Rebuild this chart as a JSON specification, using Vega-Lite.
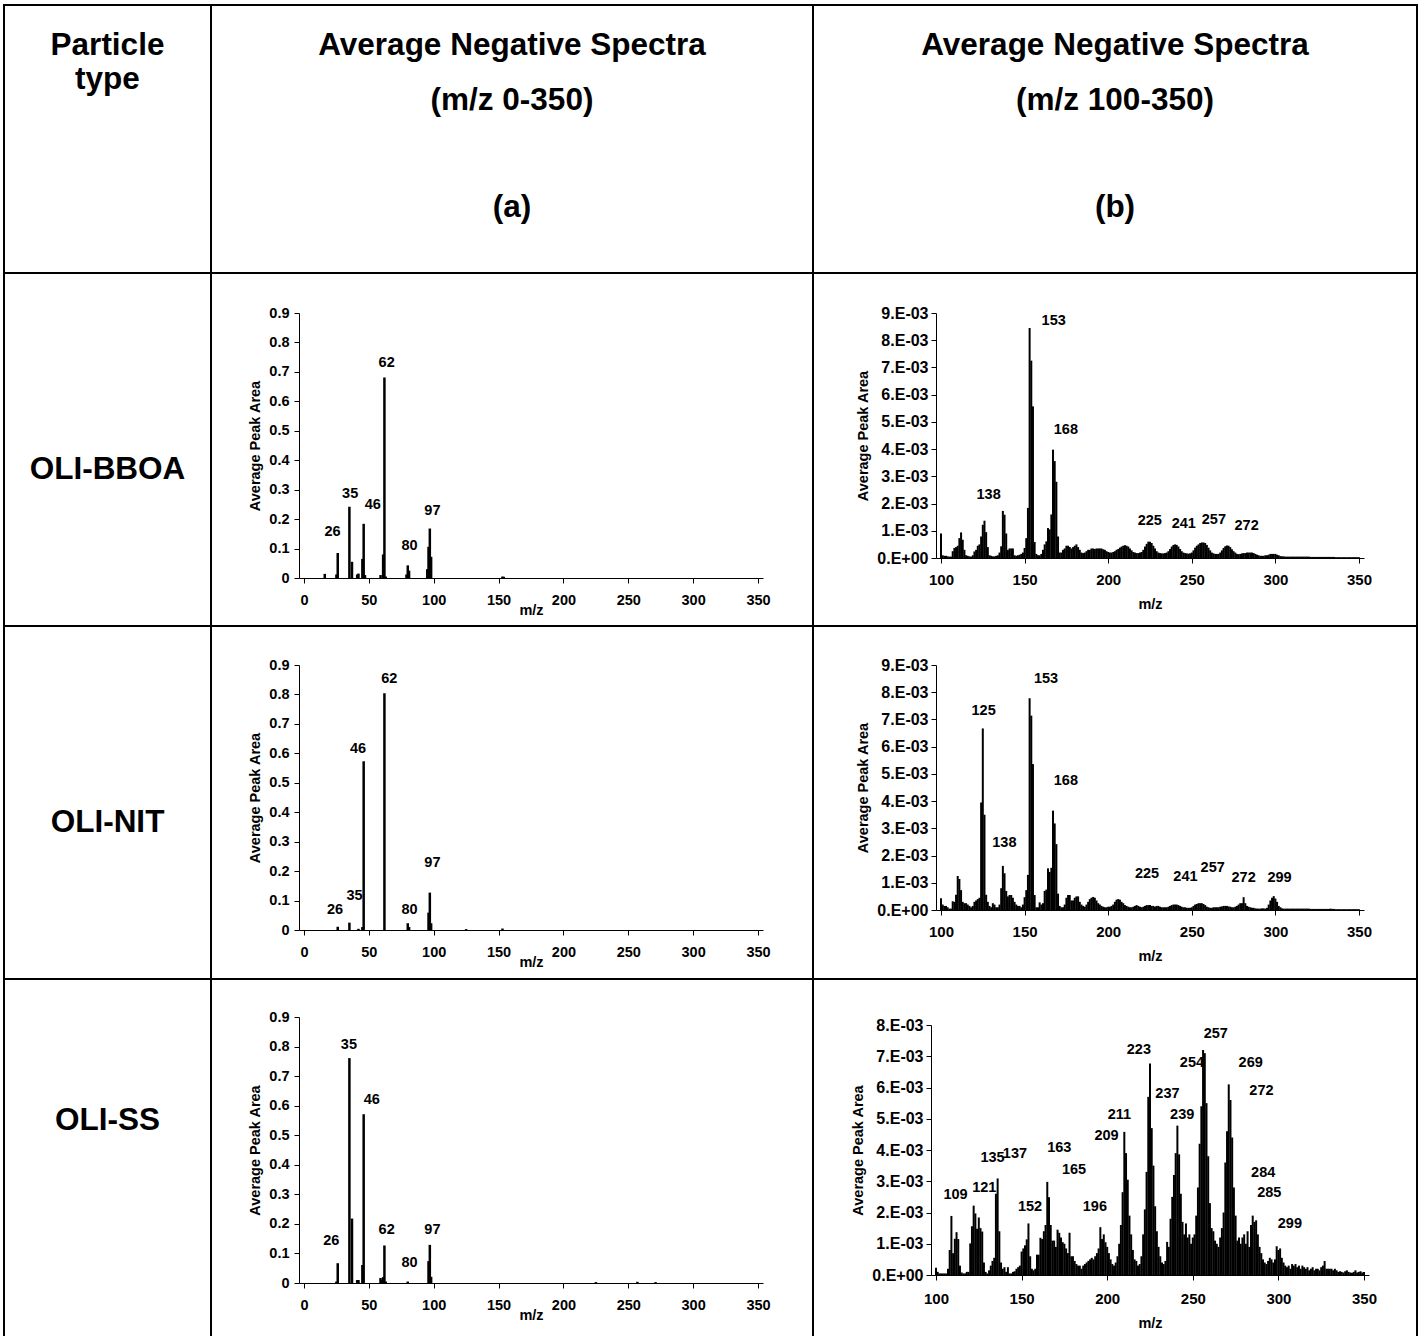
{
"$schema": "https://vega.github.io/schema/vega-lite/v6.json",
"padding": {"left": 3, "top": 4, "right": 0, "bottom": 0},
"background": "white",
"bounds": "flush",
"spacing": 0,
"columns": 3,
"config": {
 "font": "Liberation Sans",
 "view": {"stroke": "black", "strokeWidth": 2},
 "axis": {"grid": false, "domainColor": "black", "domainWidth": 1, "tickColor": "black", "tickSize": 5, "tickWidth": 1, "labelColor": "black", "labelFont": "Liberation Sans", "labelFontWeight": "bold", "labelFontSize": 14.5, "titleFont": "Liberation Sans", "titleFontWeight": "bold", "titleFontSize": 14.5, "titleColor": "black", "labelFlush": false, "labelOverlap": false, "labelBound": false},
 "text": {"font": "Liberation Sans", "fontWeight": "bold", "color": "black"}
},
"datasets": {
 "a1": [{"m":16,"v":0.014},{"m":25,"v":0.012},{"m":26,"v":0.085},{"m":35,"v":0.242},{"m":37,"v":0.055},{"m":41,"v":0.012},{"m":42,"v":0.015},{"m":45,"v":0.065},{"m":46,"v":0.184},{"m":47,"v":0.01},{"m":59,"v":0.01},{"m":61,"v":0.08},{"m":62,"v":0.681},{"m":63,"v":0.005},{"m":79,"v":0.012},{"m":80,"v":0.043},{"m":81,"v":0.025},{"m":95,"v":0.03},{"m":96,"v":0.106},{"m":97,"v":0.168},{"m":98,"v":0.072},{"m":153,"v":0.005},{"m":154,"v":0.004}],
 "a2": [{"m":26,"v":0.011},{"m":35,"v":0.025},{"m":42,"v":0.004},{"m":45,"v":0.01},{"m":46,"v":0.573},{"m":62,"v":0.804},{"m":80,"v":0.023},{"m":81,"v":0.01},{"m":96,"v":0.059},{"m":97,"v":0.127},{"m":98,"v":0.023},{"m":125,"v":0.003},{"m":153,"v":0.005}],
 "a3": [{"m":25,"v":0.005},{"m":26,"v":0.067},{"m":35,"v":0.761},{"m":37,"v":0.218},{"m":41,"v":0.01},{"m":42,"v":0.01},{"m":45,"v":0.061},{"m":46,"v":0.571},{"m":59,"v":0.017},{"m":60,"v":0.01},{"m":61,"v":0.02},{"m":62,"v":0.127},{"m":63,"v":0.005},{"m":80,"v":0.005},{"m":96,"v":0.074},{"m":97,"v":0.129},{"m":98,"v":0.021},{"m":225,"v":0.003},{"m":257,"v":0.004},{"m":271,"v":0.003}],
 "la1": [{"m":22,"v":0.157,"t":"26"},{"m":35.6,"v":0.284,"t":"35"},{"m":53,"v":0.247,"t":"46"},{"m":63.7,"v":0.73,"t":"62"},{"m":81.4,"v":0.109,"t":"80"},{"m":99,"v":0.228,"t":"97"}],
 "la2": [{"m":23.9,"v":0.067,"t":"26"},{"m":39,"v":0.115,"t":"35"},{"m":41.6,"v":0.614,"t":"46"},{"m":65.8,"v":0.851,"t":"62"},{"m":81.4,"v":0.067,"t":"80"},{"m":99,"v":0.226,"t":"97"}],
 "la3": [{"m":21,"v":0.1415,"t":"26"},{"m":34.6,"v":0.806,"t":"35"},{"m":52.2,"v":0.619,"t":"46"},{"m":63.7,"v":0.178,"t":"62"},{"m":81.4,"v":0.069,"t":"80"},{"m":99,"v":0.178,"t":"97"}],
 "lb1": [{"m":167.4,"v":8.69e-3,"t":"153"},{"m":174.7,"v":4.71e-3,"t":"168"},{"m":128.5,"v":2.3e-3,"t":"138"},{"m":224.9,"v":1.37e-3,"t":"225"},{"m":245.2,"v":1.26e-3,"t":"241"},{"m":263.2,"v":1.4e-3,"t":"257"},{"m":282.8,"v":1.19e-3,"t":"272"}],
 "lb2": [{"m":125.5,"v":7.31e-3,"t":"125"},{"m":162.8,"v":8.47e-3,"t":"153"},{"m":174.7,"v":4.74e-3,"t":"168"},{"m":137.9,"v":2.47e-3,"t":"138"},{"m":223.2,"v":1.31e-3,"t":"225"},{"m":246.2,"v":1.21e-3,"t":"241"},{"m":262.5,"v":1.56e-3,"t":"257"},{"m":281,"v":1.19e-3,"t":"272"},{"m":302.5,"v":1.19e-3,"t":"299"}],
 "lb3": [{"m":111.4,"v":2.57e-3,"t":"109"},{"m":128.2,"v":2.79e-3,"t":"121"},{"m":133,"v":3.74e-3,"t":"135"},{"m":146.1,"v":3.86e-3,"t":"137"},{"m":172,"v":4.07e-3,"t":"163"},{"m":180.6,"v":3.37e-3,"t":"165"},{"m":154.9,"v":2.18e-3,"t":"152"},{"m":192.8,"v":2.18e-3,"t":"196"},{"m":207.1,"v":5.11e-3,"t":"211"},{"m":199.6,"v":4.44e-3,"t":"209"},{"m":218.5,"v":7.21e-3,"t":"223"},{"m":263.4,"v":7.71e-3,"t":"257"},{"m":249.5,"v":6.79e-3,"t":"254"},{"m":283.8,"v":6.79e-3,"t":"269"},{"m":235.2,"v":5.8e-3,"t":"237"},{"m":243.8,"v":5.11e-3,"t":"239"},{"m":290.1,"v":5.89e-3,"t":"272"},{"m":291.1,"v":3.26e-3,"t":"284"},{"m":294.7,"v":2.62e-3,"t":"285"},{"m":306.7,"v":1.63e-3,"t":"299"}],
 "b1": [{"m":100,"v":0.9e-3},{"m":101,"v":0.1e-3},{"m":102,"v":0.08e-3},{"m":103,"v":0.08e-3},{"m":104,"v":0.06e-3},{"m":105,"v":0.05e-3},{"m":106,"v":0.05e-3},{"m":107,"v":0.25e-3},{"m":108,"v":0.37e-3},{"m":109,"v":0.4e-3},{"m":110,"v":0.45e-3},{"m":111,"v":0.73e-3},{"m":112,"v":0.94e-3},{"m":113,"v":0.67e-3},{"m":114,"v":0.3e-3},{"m":115,"v":0.1e-3},{"m":116,"v":0.08e-3},{"m":117,"v":0.06e-3},{"m":118,"v":0.05e-3},{"m":119,"v":0.1e-3},{"m":120,"v":0.24e-3},{"m":121,"v":0.3e-3},{"m":122,"v":0.45e-3},{"m":123,"v":0.5e-3},{"m":124,"v":0.79e-3},{"m":125,"v":1.22e-3},{"m":126,"v":1.37e-3},{"m":127,"v":0.95e-3},{"m":128,"v":0.4e-3},{"m":129,"v":0.1e-3},{"m":130,"v":0.08e-3},{"m":131,"v":0.06e-3},{"m":132,"v":0.06e-3},{"m":133,"v":0.08e-3},{"m":134,"v":0.1e-3},{"m":135,"v":0.2e-3},{"m":136,"v":0.43e-3},{"m":137,"v":1.73e-3},{"m":138,"v":1.59e-3},{"m":139,"v":0.9e-3},{"m":140,"v":0.3e-3},{"m":141,"v":0.35e-3},{"m":142,"v":0.35e-3},{"m":143,"v":0.35e-3},{"m":144,"v":0.1e-3},{"m":145,"v":0.08e-3},{"m":146,"v":0.1e-3},{"m":147,"v":0.12e-3},{"m":148,"v":0.15e-3},{"m":149,"v":0.2e-3},{"m":150,"v":0.37e-3},{"m":151,"v":0.73e-3},{"m":152,"v":1.84e-3},{"m":153,"v":8.45e-3},{"m":154,"v":7.25e-3},{"m":155,"v":5.57e-3},{"m":156,"v":0.59e-3},{"m":157,"v":0.15e-3},{"m":158,"v":0.1e-3},{"m":159,"v":0.1e-3},{"m":160,"v":0.15e-3},{"m":161,"v":0.3e-3},{"m":162,"v":0.5e-3},{"m":163,"v":0.61e-3},{"m":164,"v":1.1e-3},{"m":165,"v":1.05e-3},{"m":166,"v":1.6e-3},{"m":167,"v":3.98e-3},{"m":168,"v":3.56e-3},{"m":169,"v":2.8e-3},{"m":170,"v":0.79e-3},{"m":171,"v":0.2e-3},{"m":172,"v":0.2e-3},{"m":173,"v":0.3e-3},{"m":174,"v":0.35e-3},{"m":175,"v":0.45e-3},{"m":176,"v":0.45e-3},{"m":177,"v":0.4e-3},{"m":178,"v":0.35e-3},{"m":179,"v":0.4e-3},{"m":180,"v":0.45e-3},{"m":181,"v":0.5e-3},{"m":182,"v":0.4e-3},{"m":183,"v":0.3e-3},{"m":184,"v":0.2e-3},{"m":185,"v":0.18e-3},{"m":186,"v":0.2e-3},{"m":187,"v":0.25e-3},{"m":188,"v":0.3e-3},{"m":189,"v":0.3e-3},{"m":190,"v":0.35e-3},{"m":191,"v":0.35e-3},{"m":192,"v":0.33e-3},{"m":193,"v":0.35e-3},{"m":194,"v":0.35e-3},{"m":195,"v":0.35e-3},{"m":196,"v":0.35e-3},{"m":197,"v":0.32e-3},{"m":198,"v":0.3e-3},{"m":199,"v":0.25e-3},{"m":200,"v":0.22e-3},{"m":201,"v":0.2e-3},{"m":202,"v":0.2e-3},{"m":203,"v":0.22e-3},{"m":204,"v":0.25e-3},{"m":205,"v":0.3e-3},{"m":206,"v":0.33e-3},{"m":207,"v":0.38e-3},{"m":208,"v":0.42e-3},{"m":209,"v":0.45e-3},{"m":210,"v":0.47e-3},{"m":211,"v":0.45e-3},{"m":212,"v":0.42e-3},{"m":213,"v":0.35e-3},{"m":214,"v":0.28e-3},{"m":215,"v":0.22e-3},{"m":216,"v":0.2e-3},{"m":217,"v":0.18e-3},{"m":218,"v":0.18e-3},{"m":219,"v":0.2e-3},{"m":220,"v":0.22e-3},{"m":221,"v":0.3e-3},{"m":222,"v":0.42e-3},{"m":223,"v":0.52e-3},{"m":224,"v":0.6e-3},{"m":225,"v":0.6e-3},{"m":226,"v":0.55e-3},{"m":227,"v":0.45e-3},{"m":228,"v":0.35e-3},{"m":229,"v":0.25e-3},{"m":230,"v":0.2e-3},{"m":231,"v":0.18e-3},{"m":232,"v":0.17e-3},{"m":233,"v":0.17e-3},{"m":234,"v":0.18e-3},{"m":235,"v":0.2e-3},{"m":236,"v":0.25e-3},{"m":237,"v":0.33e-3},{"m":238,"v":0.42e-3},{"m":239,"v":0.48e-3},{"m":240,"v":0.5e-3},{"m":241,"v":0.48e-3},{"m":242,"v":0.42e-3},{"m":243,"v":0.33e-3},{"m":244,"v":0.25e-3},{"m":245,"v":0.2e-3},{"m":246,"v":0.18e-3},{"m":247,"v":0.17e-3},{"m":248,"v":0.16e-3},{"m":249,"v":0.17e-3},{"m":250,"v":0.2e-3},{"m":251,"v":0.28e-3},{"m":252,"v":0.38e-3},{"m":253,"v":0.45e-3},{"m":254,"v":0.5e-3},{"m":255,"v":0.55e-3},{"m":256,"v":0.57e-3},{"m":257,"v":0.57e-3},{"m":258,"v":0.55e-3},{"m":259,"v":0.48e-3},{"m":260,"v":0.38e-3},{"m":261,"v":0.28e-3},{"m":262,"v":0.2e-3},{"m":263,"v":0.17e-3},{"m":264,"v":0.15e-3},{"m":265,"v":0.15e-3},{"m":266,"v":0.15e-3},{"m":267,"v":0.2e-3},{"m":268,"v":0.28e-3},{"m":269,"v":0.37e-3},{"m":270,"v":0.43e-3},{"m":271,"v":0.46e-3},{"m":272,"v":0.45e-3},{"m":273,"v":0.4e-3},{"m":274,"v":0.32e-3},{"m":275,"v":0.25e-3},{"m":276,"v":0.2e-3},{"m":277,"v":0.15e-3},{"m":278,"v":0.14e-3},{"m":279,"v":0.15e-3},{"m":280,"v":0.17e-3},{"m":281,"v":0.18e-3},{"m":282,"v":0.18e-3},{"m":283,"v":0.2e-3},{"m":284,"v":0.2e-3},{"m":285,"v":0.2e-3},{"m":286,"v":0.2e-3},{"m":287,"v":0.18e-3},{"m":288,"v":0.15e-3},{"m":289,"v":0.12e-3},{"m":290,"v":0.1e-3},{"m":291,"v":0.08e-3},{"m":292,"v":0.08e-3},{"m":293,"v":0.08e-3},{"m":294,"v":0.1e-3},{"m":295,"v":0.1e-3},{"m":296,"v":0.12e-3},{"m":297,"v":0.15e-3},{"m":298,"v":0.15e-3},{"m":299,"v":0.15e-3},{"m":300,"v":0.15e-3},{"m":301,"v":0.12e-3},{"m":302,"v":0.1e-3},{"m":303,"v":0.07e-3},{"m":304,"v":0.06e-3},{"m":305,"v":0.06e-3},{"m":306,"v":0.05e-3},{"m":307,"v":0.05e-3},{"m":308,"v":0.05e-3},{"m":309,"v":0.05e-3},{"m":310,"v":0.05e-3},{"m":311,"v":0.05e-3},{"m":312,"v":0.05e-3},{"m":313,"v":0.05e-3},{"m":314,"v":0.05e-3},{"m":315,"v":0.05e-3},{"m":316,"v":0.05e-3},{"m":317,"v":0.05e-3},{"m":318,"v":0.05e-3},{"m":319,"v":0.05e-3},{"m":320,"v":0.05e-3},{"m":321,"v":0.04e-3},{"m":322,"v":0.04e-3},{"m":323,"v":0.04e-3},{"m":324,"v":0.04e-3},{"m":325,"v":0.04e-3},{"m":326,"v":0.04e-3},{"m":327,"v":0.04e-3},{"m":328,"v":0.04e-3},{"m":329,"v":0.04e-3},{"m":330,"v":0.04e-3},{"m":331,"v":0.04e-3},{"m":332,"v":0.04e-3},{"m":333,"v":0.04e-3},{"m":334,"v":0.04e-3},{"m":335,"v":0.04e-3},{"m":336,"v":0.03e-3},{"m":337,"v":0.03e-3},{"m":338,"v":0.03e-3},{"m":339,"v":0.03e-3},{"m":340,"v":0.03e-3},{"m":341,"v":0.03e-3},{"m":342,"v":0.03e-3},{"m":343,"v":0.03e-3},{"m":344,"v":0.03e-3},{"m":345,"v":0.03e-3},{"m":346,"v":0.03e-3},{"m":347,"v":0.03e-3},{"m":348,"v":0.03e-3},{"m":349,"v":0.03e-3},{"m":350,"v":0.03e-3}],
 "b2": [{"m":100,"v":0.43e-3},{"m":101,"v":0.2e-3},{"m":102,"v":0.15e-3},{"m":103,"v":0.15e-3},{"m":104,"v":0.1e-3},{"m":105,"v":0.05e-3},{"m":106,"v":0.05e-3},{"m":107,"v":0.32e-3},{"m":108,"v":0.3e-3},{"m":109,"v":0.56e-3},{"m":110,"v":1.25e-3},{"m":111,"v":1.14e-3},{"m":112,"v":0.73e-3},{"m":113,"v":0.3e-3},{"m":114,"v":0.25e-3},{"m":115,"v":0.25e-3},{"m":116,"v":0.2e-3},{"m":117,"v":0.15e-3},{"m":118,"v":0.1e-3},{"m":119,"v":0.15e-3},{"m":120,"v":0.3e-3},{"m":121,"v":0.35e-3},{"m":122,"v":0.4e-3},{"m":123,"v":0.45e-3},{"m":124,"v":3.95e-3},{"m":125,"v":6.67e-3},{"m":126,"v":3.5e-3},{"m":127,"v":0.56e-3},{"m":128,"v":0.3e-3},{"m":129,"v":0.15e-3},{"m":130,"v":0.1e-3},{"m":131,"v":0.25e-3},{"m":132,"v":0.2e-3},{"m":133,"v":0.1e-3},{"m":134,"v":0.1e-3},{"m":135,"v":0.2e-3},{"m":136,"v":0.8e-3},{"m":137,"v":1.62e-3},{"m":138,"v":1.35e-3},{"m":139,"v":0.7e-3},{"m":140,"v":0.5e-3},{"m":141,"v":0.55e-3},{"m":142,"v":0.55e-3},{"m":143,"v":0.45e-3},{"m":144,"v":0.3e-3},{"m":145,"v":0.2e-3},{"m":146,"v":0.15e-3},{"m":147,"v":0.15e-3},{"m":148,"v":0.1e-3},{"m":149,"v":0.2e-3},{"m":150,"v":0.47e-3},{"m":151,"v":0.73e-3},{"m":152,"v":1.29e-3},{"m":153,"v":7.78e-3},{"m":154,"v":7.14e-3},{"m":155,"v":5.36e-3},{"m":156,"v":0.55e-3},{"m":157,"v":0.1e-3},{"m":158,"v":0.1e-3},{"m":159,"v":0.28e-3},{"m":160,"v":0.2e-3},{"m":161,"v":0.25e-3},{"m":162,"v":0.7e-3},{"m":163,"v":0.75e-3},{"m":164,"v":1.53e-3},{"m":165,"v":1.4e-3},{"m":166,"v":1.55e-3},{"m":167,"v":3.65e-3},{"m":168,"v":3.18e-3},{"m":169,"v":2.42e-3},{"m":170,"v":0.6e-3},{"m":171,"v":0.15e-3},{"m":172,"v":0.1e-3},{"m":173,"v":0.1e-3},{"m":174,"v":0.2e-3},{"m":175,"v":0.45e-3},{"m":176,"v":0.55e-3},{"m":177,"v":0.55e-3},{"m":178,"v":0.35e-3},{"m":179,"v":0.35e-3},{"m":180,"v":0.45e-3},{"m":181,"v":0.5e-3},{"m":182,"v":0.5e-3},{"m":183,"v":0.3e-3},{"m":184,"v":0.2e-3},{"m":185,"v":0.15e-3},{"m":186,"v":0.12e-3},{"m":187,"v":0.2e-3},{"m":188,"v":0.3e-3},{"m":189,"v":0.4e-3},{"m":190,"v":0.45e-3},{"m":191,"v":0.48e-3},{"m":192,"v":0.45e-3},{"m":193,"v":0.35e-3},{"m":194,"v":0.25e-3},{"m":195,"v":0.2e-3},{"m":196,"v":0.15e-3},{"m":197,"v":0.12e-3},{"m":198,"v":0.1e-3},{"m":199,"v":0.1e-3},{"m":200,"v":0.12e-3},{"m":201,"v":0.12e-3},{"m":202,"v":0.15e-3},{"m":203,"v":0.2e-3},{"m":204,"v":0.3e-3},{"m":205,"v":0.38e-3},{"m":206,"v":0.4e-3},{"m":207,"v":0.38e-3},{"m":208,"v":0.3e-3},{"m":209,"v":0.25e-3},{"m":210,"v":0.18e-3},{"m":211,"v":0.15e-3},{"m":212,"v":0.12e-3},{"m":213,"v":0.1e-3},{"m":214,"v":0.1e-3},{"m":215,"v":0.12e-3},{"m":216,"v":0.15e-3},{"m":217,"v":0.18e-3},{"m":218,"v":0.15e-3},{"m":219,"v":0.12e-3},{"m":220,"v":0.1e-3},{"m":221,"v":0.12e-3},{"m":222,"v":0.15e-3},{"m":223,"v":0.18e-3},{"m":224,"v":0.18e-3},{"m":225,"v":0.18e-3},{"m":226,"v":0.15e-3},{"m":227,"v":0.15e-3},{"m":228,"v":0.12e-3},{"m":229,"v":0.15e-3},{"m":230,"v":0.15e-3},{"m":231,"v":0.12e-3},{"m":232,"v":0.1e-3},{"m":233,"v":0.1e-3},{"m":234,"v":0.1e-3},{"m":235,"v":0.1e-3},{"m":236,"v":0.12e-3},{"m":237,"v":0.15e-3},{"m":238,"v":0.18e-3},{"m":239,"v":0.2e-3},{"m":240,"v":0.2e-3},{"m":241,"v":0.2e-3},{"m":242,"v":0.18e-3},{"m":243,"v":0.15e-3},{"m":244,"v":0.12e-3},{"m":245,"v":0.1e-3},{"m":246,"v":0.1e-3},{"m":247,"v":0.08e-3},{"m":248,"v":0.08e-3},{"m":249,"v":0.08e-3},{"m":250,"v":0.1e-3},{"m":251,"v":0.15e-3},{"m":252,"v":0.2e-3},{"m":253,"v":0.22e-3},{"m":254,"v":0.25e-3},{"m":255,"v":0.25e-3},{"m":256,"v":0.25e-3},{"m":257,"v":0.22e-3},{"m":258,"v":0.18e-3},{"m":259,"v":0.12e-3},{"m":260,"v":0.1e-3},{"m":261,"v":0.08e-3},{"m":262,"v":0.08e-3},{"m":263,"v":0.1e-3},{"m":264,"v":0.1e-3},{"m":265,"v":0.1e-3},{"m":266,"v":0.1e-3},{"m":267,"v":0.12e-3},{"m":268,"v":0.13e-3},{"m":269,"v":0.15e-3},{"m":270,"v":0.15e-3},{"m":271,"v":0.15e-3},{"m":272,"v":0.13e-3},{"m":273,"v":0.12e-3},{"m":274,"v":0.1e-3},{"m":275,"v":0.1e-3},{"m":276,"v":0.12e-3},{"m":277,"v":0.15e-3},{"m":278,"v":0.2e-3},{"m":279,"v":0.25e-3},{"m":280,"v":0.25e-3},{"m":281,"v":0.47e-3},{"m":282,"v":0.25e-3},{"m":283,"v":0.15e-3},{"m":284,"v":0.12e-3},{"m":285,"v":0.1e-3},{"m":286,"v":0.08e-3},{"m":287,"v":0.08e-3},{"m":288,"v":0.06e-3},{"m":289,"v":0.05e-3},{"m":290,"v":0.05e-3},{"m":291,"v":0.05e-3},{"m":292,"v":0.06e-3},{"m":293,"v":0.06e-3},{"m":294,"v":0.05e-3},{"m":295,"v":0.08e-3},{"m":296,"v":0.2e-3},{"m":297,"v":0.35e-3},{"m":298,"v":0.45e-3},{"m":299,"v":0.51e-3},{"m":300,"v":0.42e-3},{"m":301,"v":0.3e-3},{"m":302,"v":0.15e-3},{"m":303,"v":0.1e-3},{"m":304,"v":0.06e-3},{"m":305,"v":0.05e-3},{"m":306,"v":0.05e-3},{"m":307,"v":0.05e-3},{"m":308,"v":0.05e-3},{"m":309,"v":0.05e-3},{"m":310,"v":0.05e-3},{"m":311,"v":0.05e-3},{"m":312,"v":0.05e-3},{"m":313,"v":0.05e-3},{"m":314,"v":0.05e-3},{"m":315,"v":0.05e-3},{"m":316,"v":0.05e-3},{"m":317,"v":0.05e-3},{"m":318,"v":0.05e-3},{"m":319,"v":0.05e-3},{"m":320,"v":0.05e-3},{"m":321,"v":0.04e-3},{"m":322,"v":0.04e-3},{"m":323,"v":0.04e-3},{"m":324,"v":0.04e-3},{"m":325,"v":0.04e-3},{"m":326,"v":0.04e-3},{"m":327,"v":0.04e-3},{"m":328,"v":0.04e-3},{"m":329,"v":0.04e-3},{"m":330,"v":0.04e-3},{"m":331,"v":0.04e-3},{"m":332,"v":0.04e-3},{"m":333,"v":0.05e-3},{"m":334,"v":0.04e-3},{"m":335,"v":0.04e-3},{"m":336,"v":0.03e-3},{"m":337,"v":0.03e-3},{"m":338,"v":0.03e-3},{"m":339,"v":0.03e-3},{"m":340,"v":0.03e-3},{"m":341,"v":0.03e-3},{"m":342,"v":0.03e-3},{"m":343,"v":0.03e-3},{"m":344,"v":0.03e-3},{"m":345,"v":0.03e-3},{"m":346,"v":0.03e-3},{"m":347,"v":0.03e-3},{"m":348,"v":0.03e-3},{"m":349,"v":0.03e-3},{"m":350,"v":0.03e-3}],
 "b3": [{"m":100,"v":0.23e-3},{"m":101,"v":0.1e-3},{"m":102,"v":0.05e-3},{"m":103,"v":0.05e-3},{"m":104,"v":0.05e-3},{"m":105,"v":0.05e-3},{"m":106,"v":0.05e-3},{"m":107,"v":0.2e-3},{"m":108,"v":0.8e-3},{"m":109,"v":1.89e-3},{"m":110,"v":0.7e-3},{"m":111,"v":1.16e-3},{"m":112,"v":1.37e-3},{"m":113,"v":1.15e-3},{"m":114,"v":0.3e-3},{"m":115,"v":0.08e-3},{"m":116,"v":0.05e-3},{"m":117,"v":0.05e-3},{"m":118,"v":0.1e-3},{"m":119,"v":0.1e-3},{"m":120,"v":1.01e-3},{"m":121,"v":1.56e-3},{"m":122,"v":2.22e-3},{"m":123,"v":1.97e-3},{"m":124,"v":1.48e-3},{"m":125,"v":1.84e-3},{"m":126,"v":1.5e-3},{"m":127,"v":1.39e-3},{"m":128,"v":0.4e-3},{"m":129,"v":0.1e-3},{"m":130,"v":0.05e-3},{"m":131,"v":0.15e-3},{"m":132,"v":0.3e-3},{"m":133,"v":0.45e-3},{"m":134,"v":0.55e-3},{"m":135,"v":2.6e-3},{"m":136,"v":3.09e-3},{"m":137,"v":1.4e-3},{"m":138,"v":0.4e-3},{"m":139,"v":0.2e-3},{"m":140,"v":0.25e-3},{"m":141,"v":0.1e-3},{"m":142,"v":0.25e-3},{"m":143,"v":0.05e-3},{"m":144,"v":0.05e-3},{"m":145,"v":0.1e-3},{"m":146,"v":0.12e-3},{"m":147,"v":0.2e-3},{"m":148,"v":0.25e-3},{"m":149,"v":0.3e-3},{"m":150,"v":0.75e-3},{"m":151,"v":0.85e-3},{"m":152,"v":0.95e-3},{"m":153,"v":1.14e-3},{"m":154,"v":1.65e-3},{"m":155,"v":0.6e-3},{"m":156,"v":0.2e-3},{"m":157,"v":0.15e-3},{"m":158,"v":0.2e-3},{"m":159,"v":0.65e-3},{"m":160,"v":0.65e-3},{"m":161,"v":1.19e-3},{"m":162,"v":1.15e-3},{"m":163,"v":1.4e-3},{"m":164,"v":1.6e-3},{"m":165,"v":2.98e-3},{"m":166,"v":2.49e-3},{"m":167,"v":1.6e-3},{"m":168,"v":1.1e-3},{"m":169,"v":1.1e-3},{"m":170,"v":0.9e-3},{"m":171,"v":1.45e-3},{"m":172,"v":1.35e-3},{"m":173,"v":1.2e-3},{"m":174,"v":1.05e-3},{"m":175,"v":1.0e-3},{"m":176,"v":0.85e-3},{"m":177,"v":0.7e-3},{"m":178,"v":1.35e-3},{"m":179,"v":0.6e-3},{"m":180,"v":0.6e-3},{"m":181,"v":0.45e-3},{"m":182,"v":0.35e-3},{"m":183,"v":0.3e-3},{"m":184,"v":0.3e-3},{"m":185,"v":0.2e-3},{"m":186,"v":0.3e-3},{"m":187,"v":0.35e-3},{"m":188,"v":0.4e-3},{"m":189,"v":0.45e-3},{"m":190,"v":0.5e-3},{"m":191,"v":0.55e-3},{"m":192,"v":0.5e-3},{"m":193,"v":0.6e-3},{"m":194,"v":0.7e-3},{"m":195,"v":0.85e-3},{"m":196,"v":1.53e-3},{"m":197,"v":1.15e-3},{"m":198,"v":1.3e-3},{"m":199,"v":1.05e-3},{"m":200,"v":0.9e-3},{"m":201,"v":0.7e-3},{"m":202,"v":0.5e-3},{"m":203,"v":0.35e-3},{"m":204,"v":0.3e-3},{"m":205,"v":0.4e-3},{"m":206,"v":0.6e-3},{"m":207,"v":1.0e-3},{"m":208,"v":1.6e-3},{"m":209,"v":2.65e-3},{"m":210,"v":4.58e-3},{"m":211,"v":3.9e-3},{"m":212,"v":3.05e-3},{"m":213,"v":1.9e-3},{"m":214,"v":1.3e-3},{"m":215,"v":0.8e-3},{"m":216,"v":0.5e-3},{"m":217,"v":0.45e-3},{"m":218,"v":0.3e-3},{"m":219,"v":0.35e-3},{"m":220,"v":0.6e-3},{"m":221,"v":1.3e-3},{"m":222,"v":2.1e-3},{"m":223,"v":3.3e-3},{"m":224,"v":5.7e-3},{"m":225,"v":6.77e-3},{"m":226,"v":4.7e-3},{"m":227,"v":3.5e-3},{"m":228,"v":2.2e-3},{"m":229,"v":1.4e-3},{"m":230,"v":0.9e-3},{"m":231,"v":0.6e-3},{"m":232,"v":0.4e-3},{"m":233,"v":0.35e-3},{"m":234,"v":0.45e-3},{"m":235,"v":1.06e-3},{"m":236,"v":0.9e-3},{"m":237,"v":1.8e-3},{"m":238,"v":2.5e-3},{"m":239,"v":3.2e-3},{"m":240,"v":3.9e-3},{"m":241,"v":4.78e-3},{"m":242,"v":3.86e-3},{"m":243,"v":2.6e-3},{"m":244,"v":1.7e-3},{"m":245,"v":1.3e-3},{"m":246,"v":1.65e-3},{"m":247,"v":1.2e-3},{"m":248,"v":1.3e-3},{"m":249,"v":1.0e-3},{"m":250,"v":1.2e-3},{"m":251,"v":1.3e-3},{"m":252,"v":1.9e-3},{"m":253,"v":2.8e-3},{"m":254,"v":4.2e-3},{"m":255,"v":5.4e-3},{"m":256,"v":7.2e-3},{"m":257,"v":7.1e-3},{"m":258,"v":5.5e-3},{"m":259,"v":3.8e-3},{"m":260,"v":2.3e-3},{"m":261,"v":1.5e-3},{"m":262,"v":1.4e-3},{"m":263,"v":1.1e-3},{"m":264,"v":1.0e-3},{"m":265,"v":0.9e-3},{"m":266,"v":1.2e-3},{"m":267,"v":1.5e-3},{"m":268,"v":2.0e-3},{"m":269,"v":3.6e-3},{"m":270,"v":4.6e-3},{"m":271,"v":6.1e-3},{"m":272,"v":5.6e-3},{"m":273,"v":4.4e-3},{"m":274,"v":2.8e-3},{"m":275,"v":1.9e-3},{"m":276,"v":1.1e-3},{"m":277,"v":1.2e-3},{"m":278,"v":1.0e-3},{"m":279,"v":1.2e-3},{"m":280,"v":1.3e-3},{"m":281,"v":1.0e-3},{"m":282,"v":1.4e-3},{"m":283,"v":0.9e-3},{"m":284,"v":1.6e-3},{"m":285,"v":1.9e-3},{"m":286,"v":1.7e-3},{"m":287,"v":1.75e-3},{"m":288,"v":1.3e-3},{"m":289,"v":0.9e-3},{"m":290,"v":0.7e-3},{"m":291,"v":0.5e-3},{"m":292,"v":0.4e-3},{"m":293,"v":0.35e-3},{"m":294,"v":0.45e-3},{"m":295,"v":0.55e-3},{"m":296,"v":0.5e-3},{"m":297,"v":0.4e-3},{"m":298,"v":0.5e-3},{"m":299,"v":0.92e-3},{"m":300,"v":0.8e-3},{"m":301,"v":0.85e-3},{"m":302,"v":0.55e-3},{"m":303,"v":0.4e-3},{"m":304,"v":0.3e-3},{"m":305,"v":0.25e-3},{"m":306,"v":0.3e-3},{"m":307,"v":0.2e-3},{"m":308,"v":0.35e-3},{"m":309,"v":0.3e-3},{"m":310,"v":0.35e-3},{"m":311,"v":0.25e-3},{"m":312,"v":0.3e-3},{"m":313,"v":0.2e-3},{"m":314,"v":0.3e-3},{"m":315,"v":0.25e-3},{"m":316,"v":0.2e-3},{"m":317,"v":0.25e-3},{"m":318,"v":0.15e-3},{"m":319,"v":0.2e-3},{"m":320,"v":0.25e-3},{"m":321,"v":0.15e-3},{"m":322,"v":0.2e-3},{"m":323,"v":0.2e-3},{"m":324,"v":0.15e-3},{"m":325,"v":0.25e-3},{"m":326,"v":0.3e-3},{"m":327,"v":0.45e-3},{"m":328,"v":0.2e-3},{"m":329,"v":0.2e-3},{"m":330,"v":0.2e-3},{"m":331,"v":0.2e-3},{"m":332,"v":0.15e-3},{"m":333,"v":0.2e-3},{"m":334,"v":0.15e-3},{"m":335,"v":0.1e-3},{"m":336,"v":0.12e-3},{"m":337,"v":0.1e-3},{"m":338,"v":0.08e-3},{"m":339,"v":0.12e-3},{"m":340,"v":0.15e-3},{"m":341,"v":0.1e-3},{"m":342,"v":0.08e-3},{"m":343,"v":0.07e-3},{"m":344,"v":0.1e-3},{"m":345,"v":0.15e-3},{"m":346,"v":0.08e-3},{"m":347,"v":0.1e-3},{"m":348,"v":0.12e-3},{"m":349,"v":0.08e-3},{"m":350,"v":0.1e-3}]
},
"concat": [
  {"width": 207, "height": 268, "view": {"stroke": "black", "strokeWidth": 2}, "data": {"values": [{"a": "Particle", "b": "type"}]},
   "encoding": {"x": {"datum": 0, "type": "quantitative", "scale": {"domain": [-1, 1]}, "axis": null}, "y": {"datum": 0, "type": "quantitative", "scale": {"domain": [-1, 1]}, "axis": null}},
   "layer": [
    {"mark": {"type": "text", "fontSize": 31.5, "dy": -93}, "encoding": {"text": {"field": "a"}}},
    {"mark": {"type": "text", "fontSize": 31.5, "dy": -59}, "encoding": {"text": {"field": "b"}}}
  ]},
  {"width": 602, "height": 268, "view": {"stroke": "black", "strokeWidth": 2}, "data": {"values": [{"a": "Average Negative Spectra", "b": "(m/z 0-350)", "c": "(a)"}]},
   "encoding": {"x": {"datum": 0, "type": "quantitative", "scale": {"domain": [-1, 1]}, "axis": null}, "y": {"datum": 0, "type": "quantitative", "scale": {"domain": [-1, 1]}, "axis": null}},
   "layer": [
    {"mark": {"type": "text", "fontSize": 31.5, "dy": -93}, "encoding": {"text": {"field": "a"}}},
    {"mark": {"type": "text", "fontSize": 31.5, "dy": -38}, "encoding": {"text": {"field": "b"}}},
    {"mark": {"type": "text", "fontSize": 31.5, "dy": 69}, "encoding": {"text": {"field": "c"}}}
  ]},
  {"width": 604, "height": 268, "view": {"stroke": "black", "strokeWidth": 2}, "data": {"values": [{"a": "Average Negative Spectra", "b": "(m/z 100-350)", "c": "(b)"}]},
   "encoding": {"x": {"datum": 0, "type": "quantitative", "scale": {"domain": [-1, 1]}, "axis": null}, "y": {"datum": 0, "type": "quantitative", "scale": {"domain": [-1, 1]}, "axis": null}},
   "layer": [
    {"mark": {"type": "text", "fontSize": 31.5, "dy": -93}, "encoding": {"text": {"field": "a"}}},
    {"mark": {"type": "text", "fontSize": 31.5, "dy": -38}, "encoding": {"text": {"field": "b"}}},
    {"mark": {"type": "text", "fontSize": 31.5, "dy": 69}, "encoding": {"text": {"field": "c"}}}
  ]},
  {"width": 207, "height": 353, "view": {"stroke": "black", "strokeWidth": 2}, "data": {"values": [{"a": "OLI-BBOA"}]}, "mark": {"type": "text", "fontSize": 31.5, "dy": 20},
   "encoding": {"x": {"datum": 0, "type": "quantitative", "scale": {"domain": [-1, 1]}, "axis": null}, "y": {"datum": 0, "type": "quantitative", "scale": {"domain": [-1, 1]}, "axis": null}, "text": {"field": "a"}}},
  {"width": 602, "height": 353, "layer": [
    {"data": {"name": "a1"}, "mark": {"type": "bar", "color": "black", "size": 2.5, "orient": "vertical"}, "encoding": {
      "x": {"field": "m", "type": "quantitative", "scale": {"domain": [0, 350], "range": [88, 552], "nice": false, "zero": false}, "axis": {"title": "m/z", "values": [0,50,100,150,200,250,300,350], "tickCount": 20, "offset": -48, "labelPadding": 10, "titlePadding": -3, "labelOverlap": false}},
      "y": {"field": "v", "type": "quantitative", "scale": {"domain": [0, 0.9], "range": [305, 40], "nice": false}, "axis": {"title": "Average Peak Area", "values": [0,0.1,0.2,0.3,0.4,0.5,0.6,0.7,0.8,0.9], "tickCount": 20, "format": ".1~f", "offset": -88, "labelPadding": 5, "titlePadding": 6, "labelOverlap": false}}}},
    {"data": {"name": "la1"}, "mark": {"type": "text", "fontSize": 14.5}, "encoding": {
      "x": {"field": "m", "type": "quantitative", "scale": {"domain": [0, 350], "range": [88, 552], "nice": false, "zero": false}},
      "y": {"field": "v", "type": "quantitative", "scale": {"domain": [0, 0.9], "range": [305, 40], "nice": false}},
      "text": {"field": "t"}}}
  ]},
  {"width": 604, "height": 353, "layer": [
    {"data": {"name": "b1"}, "mark": {"type": "bar", "color": "black", "size": 2, "orient": "vertical"}, "encoding": {
      "x": {"field": "m", "type": "quantitative", "scale": {"domain": [100, 350], "range": [123, 551], "nice": false, "zero": false}, "axis": {"title": "m/z", "values": [100,150,200,250,300,350], "tickCount": 20, "offset": -68, "labelPadding": 9, "titlePadding": 10, "labelFontSize": 15, "labelOverlap": false}},
      "y": {"field": "v", "type": "quantitative", "scale": {"domain": [0, 0.009], "range": [285, 40], "nice": false}, "axis": {"title": "Average Peak Area", "values": [0,0.001,0.002,0.003,0.004,0.005,0.006,0.007,0.008,0.009], "tickCount": 20, "labelExpr": "datum.value == 0 ? '0.E+00' : format(datum.value*1000, '.0f') + '.E-03'", "offset": -123, "labelPadding": 3, "titlePadding": 6, "labelFontSize": 16, "labelOverlap": false}}}},
    {"data": {"name": "lb1"}, "mark": {"type": "text", "fontSize": 14.5}, "encoding": {
      "x": {"field": "m", "type": "quantitative", "scale": {"domain": [100, 350], "range": [123, 551], "nice": false, "zero": false}},
      "y": {"field": "v", "type": "quantitative", "scale": {"domain": [0, 0.009], "range": [285, 40], "nice": false}},
      "text": {"field": "t"}}}
  ]},
  {"width": 207, "height": 353, "view": {"stroke": "black", "strokeWidth": 2}, "data": {"values": [{"a": "OLI-NIT"}]}, "mark": {"type": "text", "fontSize": 31.5, "dy": 20},
   "encoding": {"x": {"datum": 0, "type": "quantitative", "scale": {"domain": [-1, 1]}, "axis": null}, "y": {"datum": 0, "type": "quantitative", "scale": {"domain": [-1, 1]}, "axis": null}, "text": {"field": "a"}}},
  {"width": 602, "height": 353, "layer": [
    {"data": {"name": "a2"}, "mark": {"type": "bar", "color": "black", "size": 2.5, "orient": "vertical"}, "encoding": {
      "x": {"field": "m", "type": "quantitative", "scale": {"domain": [0, 350], "range": [88, 552], "nice": false, "zero": false}, "axis": {"title": "m/z", "values": [0,50,100,150,200,250,300,350], "tickCount": 20, "offset": -49, "labelPadding": 10, "titlePadding": -3, "labelOverlap": false}},
      "y": {"field": "v", "type": "quantitative", "scale": {"domain": [0, 0.9], "range": [304, 39], "nice": false}, "axis": {"title": "Average Peak Area", "values": [0,0.1,0.2,0.3,0.4,0.5,0.6,0.7,0.8,0.9], "tickCount": 20, "format": ".1~f", "offset": -88, "labelPadding": 5, "titlePadding": 6, "labelOverlap": false}}}},
    {"data": {"name": "la2"}, "mark": {"type": "text", "fontSize": 14.5}, "encoding": {
      "x": {"field": "m", "type": "quantitative", "scale": {"domain": [0, 350], "range": [88, 552], "nice": false, "zero": false}},
      "y": {"field": "v", "type": "quantitative", "scale": {"domain": [0, 0.9], "range": [304, 39], "nice": false}},
      "text": {"field": "t"}}}
  ]},
  {"width": 604, "height": 353, "layer": [
    {"data": {"name": "b2"}, "mark": {"type": "bar", "color": "black", "size": 2, "orient": "vertical"}, "encoding": {
      "x": {"field": "m", "type": "quantitative", "scale": {"domain": [100, 350], "range": [123, 551], "nice": false, "zero": false}, "axis": {"title": "m/z", "values": [100,150,200,250,300,350], "tickCount": 20, "offset": -69, "labelPadding": 9, "titlePadding": 10, "labelFontSize": 15, "labelOverlap": false}},
      "y": {"field": "v", "type": "quantitative", "scale": {"domain": [0, 0.009], "range": [284, 39], "nice": false}, "axis": {"title": "Average Peak Area", "values": [0,0.001,0.002,0.003,0.004,0.005,0.006,0.007,0.008,0.009], "tickCount": 20, "labelExpr": "datum.value == 0 ? '0.E+00' : format(datum.value*1000, '.0f') + '.E-03'", "offset": -123, "labelPadding": 3, "titlePadding": 6, "labelFontSize": 16, "labelOverlap": false}}}},
    {"data": {"name": "lb2"}, "mark": {"type": "text", "fontSize": 14.5}, "encoding": {
      "x": {"field": "m", "type": "quantitative", "scale": {"domain": [100, 350], "range": [123, 551], "nice": false, "zero": false}},
      "y": {"field": "v", "type": "quantitative", "scale": {"domain": [0, 0.009], "range": [284, 39], "nice": false}},
      "text": {"field": "t"}}}
  ]},
  {"width": 207, "height": 358, "view": {"stroke": "black", "strokeWidth": 2}, "data": {"values": [{"a": "OLI-SS"}]}, "mark": {"type": "text", "fontSize": 31.5, "dy": -37},
   "encoding": {"x": {"datum": 0, "type": "quantitative", "scale": {"domain": [-1, 1]}, "axis": null}, "y": {"datum": 0, "type": "quantitative", "scale": {"domain": [-1, 1]}, "axis": null}, "text": {"field": "a"}}},
  {"width": 602, "height": 358, "layer": [
    {"data": {"name": "a3"}, "mark": {"type": "bar", "color": "black", "size": 2.5, "orient": "vertical"}, "encoding": {
      "x": {"field": "m", "type": "quantitative", "scale": {"domain": [0, 350], "range": [88, 552], "nice": false, "zero": false}, "axis": {"title": "m/z", "values": [0,50,100,150,200,250,300,350], "tickCount": 20, "offset": -54, "labelPadding": 10, "titlePadding": -3, "labelOverlap": false}},
      "y": {"field": "v", "type": "quantitative", "scale": {"domain": [0, 0.9], "range": [304, 38], "nice": false}, "axis": {"title": "Average Peak Area", "values": [0,0.1,0.2,0.3,0.4,0.5,0.6,0.7,0.8,0.9], "tickCount": 20, "format": ".1~f", "offset": -88, "labelPadding": 5, "titlePadding": 6, "labelOverlap": false}}}},
    {"data": {"name": "la3"}, "mark": {"type": "text", "fontSize": 14.5}, "encoding": {
      "x": {"field": "m", "type": "quantitative", "scale": {"domain": [0, 350], "range": [88, 552], "nice": false, "zero": false}},
      "y": {"field": "v", "type": "quantitative", "scale": {"domain": [0, 0.9], "range": [304, 38], "nice": false}},
      "text": {"field": "t"}}}
  ]},
  {"width": 604, "height": 358, "layer": [
    {"data": {"name": "b3"}, "mark": {"type": "bar", "color": "black", "size": 2, "orient": "vertical"}, "encoding": {
      "x": {"field": "m", "type": "quantitative", "scale": {"domain": [100, 350], "range": [118, 556], "nice": false, "zero": false}, "axis": {"title": "m/z", "values": [100,150,200,250,300,350], "tickCount": 20, "offset": -62, "labelPadding": 11, "titlePadding": 10, "labelFontSize": 15, "labelOverlap": false}},
      "y": {"field": "v", "type": "quantitative", "scale": {"domain": [0, 0.008], "range": [296, 46], "nice": false}, "axis": {"title": "Average Peak Area", "values": [0,0.001,0.002,0.003,0.004,0.005,0.006,0.007,0.008], "tickCount": 20, "labelExpr": "datum.value == 0 ? '0.E+00' : format(datum.value*1000, '.0f') + '.E-03'", "offset": -118, "labelPadding": 3, "titlePadding": 6, "labelFontSize": 16, "labelOverlap": false}}}},
    {"data": {"name": "lb3"}, "mark": {"type": "text", "fontSize": 14.5}, "encoding": {
      "x": {"field": "m", "type": "quantitative", "scale": {"domain": [100, 350], "range": [118, 556], "nice": false, "zero": false}},
      "y": {"field": "v", "type": "quantitative", "scale": {"domain": [0, 0.008], "range": [296, 46], "nice": false}},
      "text": {"field": "t"}}}
  ]}
]
}
